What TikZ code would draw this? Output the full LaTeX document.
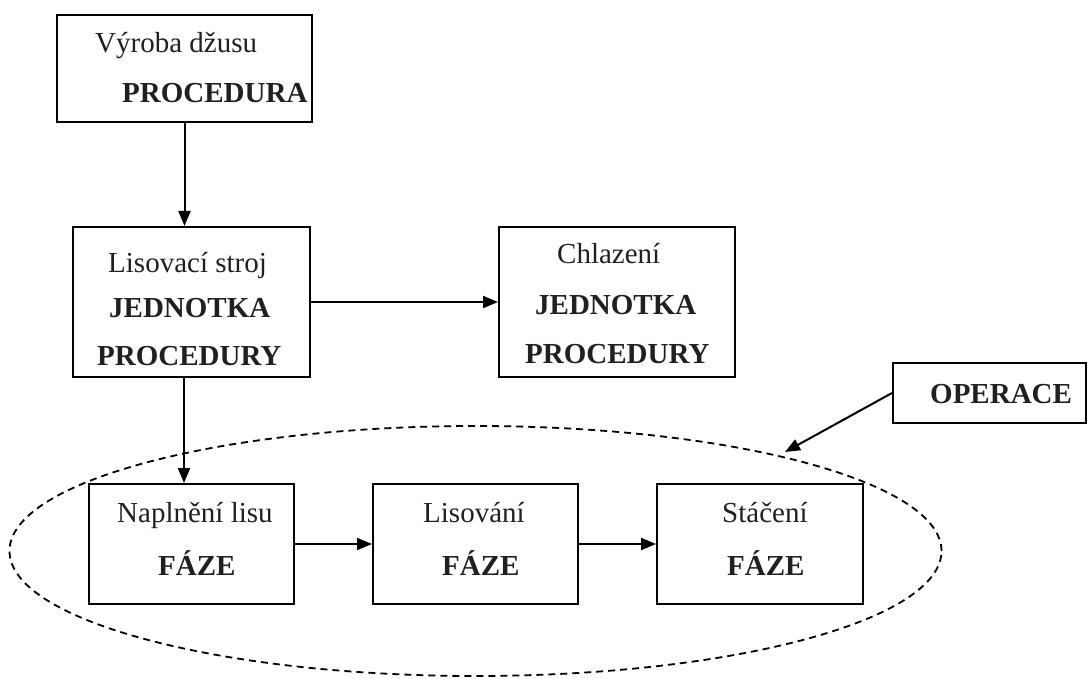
\documentclass[tikz,border=0pt]{standalone}
\usepackage{fontspec}
\setmainfont{Liberation Serif}
\usetikzlibrary{arrows.meta,shapes.geometric}
\definecolor{ink}{HTML}{231F20}
\begin{document}
\begin{tikzpicture}[x=1pt,y=-1pt,
  box/.style={draw=black,line width=2pt,rectangle,inner sep=0pt},
  txt/.style={inner sep=0pt,anchor=base west,text=ink,font=\fontsize{29}{34}\selectfont},
  btxt/.style={txt,font=\fontsize{29}{34}\selectfont\bfseries},
  arr/.style={line width=2pt,-{Triangle[length=15pt,width=12pt]}},
  opring/.style={draw=black,line width=1.8pt,dash pattern=on 7pt off 5pt,ellipse,inner sep=0pt}]
\useasboundingbox (0,0) rectangle (1088,679);
\fill[white] (0,0) rectangle (1088,679);
% ellipse
\node[opring,minimum width=932pt,minimum height=250pt] (op) at (475.5,551) {};
% boxes
\node[box,minimum width=255pt,minimum height=107pt] (b1) at (184.5,68.5) {};
\node[box,minimum width=237pt,minimum height=150pt] (b2) at (191.5,302) {};
\node[box,minimum width=236pt,minimum height=150pt] (b3) at (617,302) {};
\node[box,minimum width=193pt,minimum height=60pt] (b4) at (989.5,393) {};
\node[box,minimum width=205pt,minimum height=120pt] (p1) at (191.5,544) {};
\node[box,minimum width=205pt,minimum height=120pt] (p2) at (475.5,544) {};
\node[box,minimum width=206pt,minimum height=120pt] (p3) at (760,544) {};
% texts
\node[txt] (t1a) at (95,53) {Výroba džusu};
\node[btxt] (t1b) at (122,103) {PROCEDURA};
\node[txt] (t2a) at (108,273) {Lisovací stroj};
\node[btxt] (t2b) at (109,318) {JEDNOTKA};
\node[btxt] (t2c) at (97,365) {PROCEDURY};
\node[txt] (t3a) at (557,264) {Chlazení};
\node[btxt] (t3b) at (535,315) {JEDNOTKA};
\node[btxt] (t3c) at (525,363) {PROCEDURY};
\node[btxt] (t4) at (930,403) {OPERACE};
\node[txt] (tp1a) at (117,522) {Naplnění lisu};
\node[btxt] (tp1b) at (158,575) {FÁZE};
\node[txt] (tp2a) at (423,522) {Lisování};
\node[btxt] (tp2b) at (442,575) {FÁZE};
\node[txt] (tp3a) at (722,522) {Stáčení};
\node[btxt] (tp3b) at (727,575) {FÁZE};
% connectors
\coordinate (optip) at (785,452);
\draw[arr] (b1.south) -- (b1.south |- b2.north);
\draw[arr] (b2.east) -- (b3.west);
\draw[arr] ([xshift=-7.5pt]b2.south) -- ([xshift=-7.5pt]p1.north);
\draw[arr] (p1.east) -- (p2.west);
\draw[arr] (p2.east) -- (p3.west);
\draw[arr] (b4.west) -- (optip);
\end{tikzpicture}
\end{document}
